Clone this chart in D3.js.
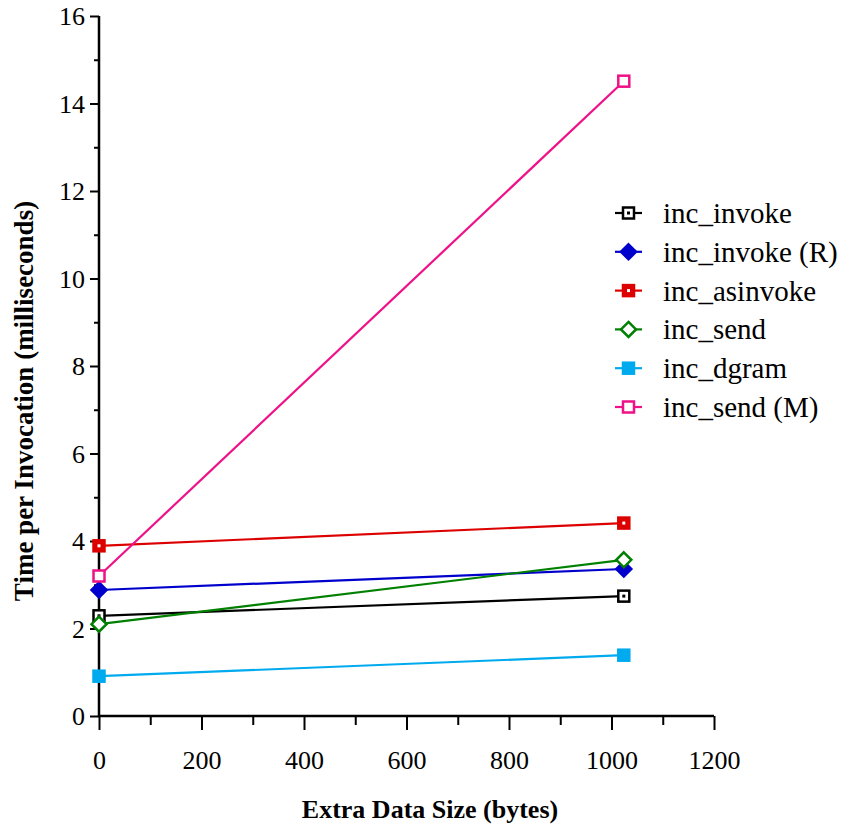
<!DOCTYPE html>
<html>
<head>
<meta charset="utf-8">
<script src="https://cdn.jsdelivr.net/npm/d3@7"></script>
<style>
  body { margin: 0; background: #fff; }
</style>
</head>
<body>
<script>
// data
var sizes = [0, 1024];
var seriesNames = ["inc_invoke", "inc_invoke (R)", "inc_asinvoke", "inc_send", "inc_dgram", "inc_send (M)"];
var inc_invoke   = [2.29, 2.74];
var inc_invokeR  = [2.88, 3.36];
var inc_asinvoke = [3.89, 4.41];
var inc_send     = [2.10, 3.57];
var inc_dgram    = [0.91, 1.39];
var inc_sendM    = [3.20, 14.51];
var xTicks = [0, 200, 400, 600, 800, 1000, 1200];
var yTicks = [0, 2, 4, 6, 8, 10, 12, 14, 16];

var colors  = ["#000000", "#0000cc", "#dd0000", "#008000", "#00aaee", "#ee1188"];
var markers = ["sqDot", "diamondFill", "sqFillDot", "diamondOpen", "sqFill", "sqOpen"];
var values  = [inc_invoke, inc_invokeR, inc_asinvoke, inc_send, inc_dgram, inc_sendM];

var SERIF = "Times New Roman, Liberation Serif, Times, serif";
var W = 841, H = 828;
var svg = d3.select("body").append("svg").attr("width", W).attr("height", H);

var x = d3.scaleLinear().domain([0, 1200]).range([99, 714]);
var y = d3.scaleLinear().domain([0, 16]).range([716, 16]);

// axes
var xAxis = svg.append("g").attr("transform", "translate(0," + y(0) + ")")
  .call(d3.axisBottom(x).tickValues(xTicks).tickSize(14).tickFormat(d3.format("d")));
var xMinor = svg.append("g").attr("transform", "translate(0," + y(0) + ")")
  .call(d3.axisBottom(x).tickValues(d3.range(100, 1200, 200)).tickSize(9).tickFormat(""));
var yAxis = svg.append("g").attr("transform", "translate(" + x(0) + ",0)")
  .call(d3.axisLeft(y).tickValues(yTicks).tickSize(9).tickPadding(5).tickFormat(d3.format("d")));
var yMinor = svg.append("g").attr("transform", "translate(" + x(0) + ",0)")
  .call(d3.axisLeft(y).tickValues(d3.range(1, 16, 2)).tickSize(5).tickFormat(""));

[xAxis, xMinor, yAxis, yMinor].forEach(function(a) {
  a.attr("font-family", null).attr("font-size", null);
  a.select(".domain").attr("stroke", "#000").attr("stroke-width", 2.5);
  a.selectAll(".tick line").attr("stroke", "#000").attr("stroke-width", 2);
  a.selectAll(".tick text").attr("fill", "#000")
    .style("font-family", SERIF).style("font-size", "26px");
});
xAxis.selectAll(".tick text").attr("y", 53).attr("dy", 0);
yAxis.selectAll(".tick text").attr("dy", "0.33em");
xMinor.select(".domain").remove();
yMinor.select(".domain").remove();
xAxis.select(".domain").attr("d", "M" + x(0) + ",0H" + x(1200));
yAxis.select(".domain").attr("d", "M0," + y(16) + "V" + y(0));

// axis titles
svg.append("text")
  .attr("x", 430).attr("y", 818)
  .attr("text-anchor", "middle")
  .style("font-family", SERIF).style("font-size", "26px").style("font-weight", "bold")
  .text("Extra Data Size (bytes)");
svg.append("text")
  .attr("transform", "translate(33,401) rotate(-90)")
  .attr("text-anchor", "middle")
  .style("font-family", SERIF).style("font-size", "27px").style("font-weight", "bold")
  .text("Time per Invocation (milliseconds)");

function drawMarker(g, type, color, cx, cy) {
  var s = 11;
  if (type.indexOf("sq") == 0) {
    var fill = (type == "sqFill" || type == "sqFillDot") ? color : "#fff";
    g.append("rect").attr("x", cx - s / 2).attr("y", cy - s / 2).attr("width", s).attr("height", s)
      .attr("fill", fill).attr("stroke", color).attr("stroke-width", 2.5);
    if (type == "sqDot") {
      g.append("rect").attr("x", cx - 1.5).attr("y", cy - 1.5).attr("width", 3).attr("height", 3).attr("fill", color);
    }
    if (type == "sqFillDot") {
      g.append("rect").attr("x", cx - 1.5).attr("y", cy - 1.5).attr("width", 3).attr("height", 3).attr("fill", "#fff");
    }
  } else {
    var d = 7.5;
    g.append("path")
      .attr("d", "M" + cx + "," + (cy - d) + "L" + (cx + d) + "," + cy + "L" + cx + "," + (cy + d) + "L" + (cx - d) + "," + cy + "Z")
      .attr("fill", type == "diamondFill" ? color : "#fff")
      .attr("stroke", color).attr("stroke-width", 2.5);
  }
}

var line = d3.line().x(function(d, i) { return x(sizes[i]); }).y(function(d) { return y(d); });

values.forEach(function(vals, k) {
  var g = svg.append("g");
  g.append("path").datum(vals).attr("d", line)
    .attr("fill", "none").attr("stroke", colors[k]).attr("stroke-width", 2.2);
  vals.forEach(function(v, i) {
    drawMarker(g, markers[k], colors[k], x(sizes[i]), y(v));
  });
});

// legend
var legend = svg.append("g");
seriesNames.forEach(function(name, k) {
  var ly = 213 + k * 38.8;
  legend.append("line").attr("x1", 615).attr("x2", 642).attr("y1", ly).attr("y2", ly)
    .attr("stroke", colors[k]).attr("stroke-width", 2.2);
  drawMarker(legend, markers[k], colors[k], 628.5, ly);
  legend.append("text").attr("x", 663).attr("y", ly + 10)
    .style("font-family", SERIF).style("font-size", "29px").text(name);
});
</script>
</body>
</html>
